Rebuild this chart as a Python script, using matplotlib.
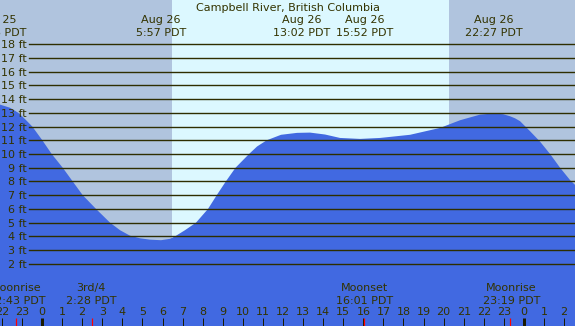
import matplotlib
matplotlib.use('Agg')
import matplotlib.pyplot as plt

# Tide heights (ft); hours relative to midnight Aug 26 (PDT)
hours = [-2.092, -1.594, -1.18, -0.85, -0.483, 0.015, 0.483, 1.031, 1.529,
         2.027, 2.689, 3.386, 3.884, 4.382, 4.88, 5.378, 5.926, 6.375, 6.624,
         7.12, 7.669, 8.267, 8.70, 9.153, 9.636, 10.309, 10.71, 11.19, 11.902,
         12.699, 13.347, 14.094, 14.841, 15.837, 16.833, 18.327, 19.821,
         20.817, 21.813, 22.46, 22.96, 23.307, 23.556, 23.805, 24.303, 24.801,
         25.299, 25.797, 26.295, 26.544]
heights = [13.6, 13.37, 13.0, 12.55, 12.0, 11.0, 10.0, 9.0, 8.0,
           7.0, 6.0, 5.0, 4.45, 4.05, 3.86, 3.76, 3.72, 3.82, 4.0,
           4.45, 5.0, 6.0, 7.0, 8.0, 9.0, 10.0, 10.55, 11.0, 11.4,
           11.54, 11.56, 11.42, 11.17, 11.1, 11.17, 11.4, 11.9,
           12.46, 12.87, 12.95, 12.9, 12.75, 12.6, 12.39, 11.66, 10.9,
           10.0, 9.0, 8.1, 7.75]

levels = list(range(2, 19))
level_labels = [f"{v} ft" for v in levels]

hour_ticks = list(range(-2, 27))
hour_labels = [str(h % 24) for h in hour_ticks]
midnights = [0, 24]

day_start, day_end = 6.47, 20.27

tide_labels = [(-2.23, "Aug 25", "21:46 PDT"),
               (5.93, "Aug 26", "5:57 PDT"),
               (12.92, "Aug 26", "13:02 PDT"),
               (16.05, "Aug 26", "15:52 PDT"),
               (22.49, "Aug 26", "22:27 PDT")]
moon_times = [-1.283, 2.467, 16.017, 23.317]
moon_labels = [(-1.27, "Moonrise", "22:43 PDT"),
               (2.44, "3rd/4", "2:28 PDT"),
               (16.05, "Moonset", "16:01 PDT"),
               (23.38, "Moonrise", "23:19 PDT")]

title = "Campbell River, British Columbia"

W, H = 575, 326
night = '#b0c4de'
day = '#dcf8ff'
fillc = '#4169e1'
linec = '#2e2e00'
txtc = '#333300'

fig = plt.figure(figsize=(W / 100, H / 100), dpi=100)
ax = fig.add_axes([0, 0, 1, 1])
ymin, ymax = -2.53, 21.22
ax.set_xlim(-2.092, 26.54)
ax.set_ylim(ymin, ymax)
ax.set_facecolor(night)
for s in ax.spines.values():
    s.set_visible(False)

ax.axvspan(day_start, day_end, color=day, lw=0, zorder=0)
ax.fill_between(hours, heights, ymin - 1, color=fillc, lw=0, zorder=1)
for lv in levels:
    ax.axhline(lv, xmin=29 / W, xmax=1, color=linec, lw=1.0, zorder=2)

# y labels inside
ax.set_yticks(levels)
ax.set_yticklabels(level_labels)
ax.tick_params(axis='y', direction='in', length=0, pad=-27 * 0.72,
               labelsize=8, labelcolor=txtc)

# x ticks inside
ax.set_xticks(hour_ticks)
ax.set_xticklabels(hour_labels)
ax.tick_params(axis='x', which='major', direction='in', length=8 * 0.72,
               width=0.72, color='#1a1a00', pad=-18.7 * 0.72,
               labelsize=8, labelcolor=txtc)
for t, h in zip(ax.xaxis.get_major_ticks(), hour_ticks):
    t.set_zorder(3)
    if h in midnights:
        t.tick1line.set_markeredgewidth(3 * 0.72)
ax.set_xticks(moon_times, minor=True)
ax.tick_params(axis='x', which='minor', direction='in', length=8 * 0.72,
               width=1.2 * 0.72, color='red')

tr = ax.get_xaxis_transform()
def ay(px):
    return 1 - px / H

ax.text(0.5, ay(11), title, transform=ax.transAxes, ha='center', va='baseline',
        fontsize=8, color=txtc, zorder=5)
for x, l1, l2 in tide_labels:
    ax.text(x, ay(23.3), l1, transform=tr, ha='center', va='baseline',
            fontsize=8, color=txtc, zorder=5)
    ax.text(x, ay(36), l2, transform=tr, ha='center', va='baseline',
            fontsize=8, color=txtc, zorder=5)
for x, l1, l2 in moon_labels:
    ax.text(x, ay(291), l1, transform=tr, ha='center', va='baseline',
            fontsize=8, color=txtc, zorder=5)
    ax.text(x, ay(303.7), l2, transform=tr, ha='center', va='baseline',
            fontsize=8, color=txtc, zorder=5)

fig.savefig('out.png', dpi=100)
